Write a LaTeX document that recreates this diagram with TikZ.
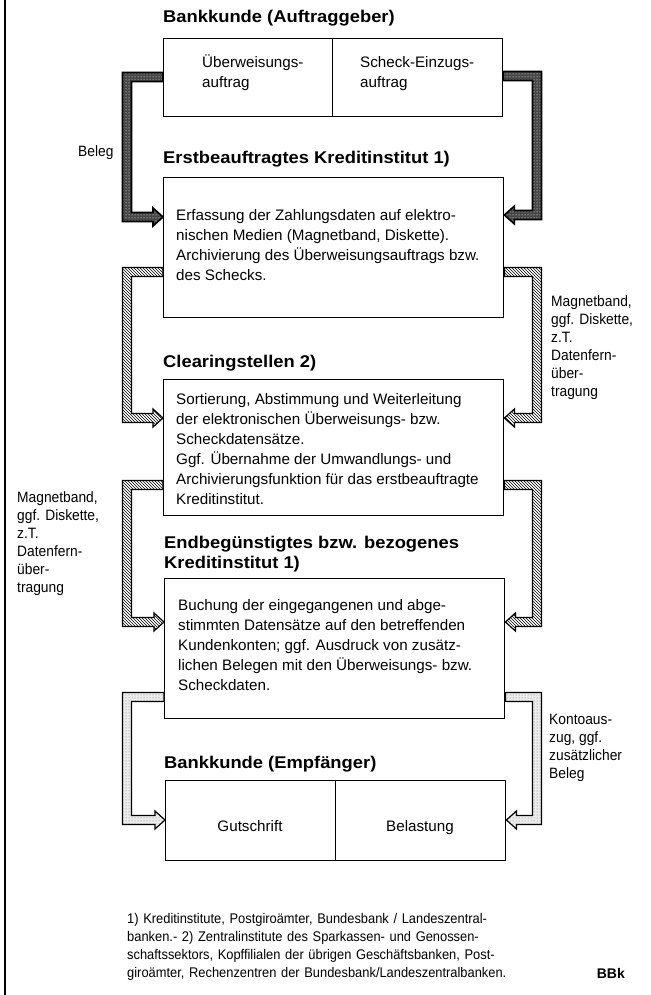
\documentclass[tikz,border=0pt]{standalone}
\usepackage{fontspec}
\setmainfont{Liberation Sans}
\newfontfamily\titlefont[FakeStretch=1.08]{Liberation Sans Bold}
\newfontfamily\narrowfont[FakeStretch=0.92]{Liberation Sans}
\usetikzlibrary{patterns,calc}

\tikzset{
  box/.style={draw, line width=1.4pt, rectangle, inner sep=0pt, anchor=north west},
  title/.style={font=\titlefont\fontsize{17}{20}\selectfont, anchor=base west, inner sep=0pt},
  body/.style={font=\fontsize{15.2}{20}\selectfont, align=left, anchor=north west, inner sep=0pt},
  side/.style={font=\narrowfont\fontsize{15}{18}\selectfont, align=left, anchor=north west, inner sep=0pt},
  foot/.style={font=\narrowfont\fontsize{14}{18}\selectfont, align=left, anchor=north west, inner sep=0pt, text width=395pt},
  darkband/.style={preaction={fill=black!72}, preaction={pattern=dots, pattern color=white}, draw, line width=1.6pt},
  hatchband/.style={preaction={fill=white}, preaction={pattern=north west lines}, draw, line width=1.2pt},
  lightband/.style={preaction={fill=gray!15}, preaction={pattern=dots, pattern color=gray}, draw, line width=1.2pt},
}

% #1 style, #2 from node, #3 to node, #4 anchor, #5 y1, #6 y2, #7 x of vertical leg, #8 side sign
\newcommand\flowband[8]{%
  \path[#1] let \p1=(#2.#4), \p2=(#3.#4) in
    (\x1,{-(#5-4.5)*1pt})
    -- ({(#7+(#8)*4.5)*1pt},{-(#5-4.5)*1pt})
    -- ({(#7+(#8)*4.5)*1pt},{-(#6+4.5)*1pt})
    -- ({\x2+(#8)*10pt},{-(#6+4.5)*1pt})
    -- ({\x2+(#8)*10pt},{-(#6+9)*1pt})
    -- (\x2,{-(#6)*1pt})
    -- ({\x2+(#8)*10pt},{-(#6-9)*1pt})
    -- ({\x2+(#8)*10pt},{-(#6-4.5)*1pt})
    -- ({(#7-(#8)*4.5)*1pt},{-(#6-4.5)*1pt})
    -- ({(#7-(#8)*4.5)*1pt},{-(#5+4.5)*1pt})
    -- (\x1,{-(#5+4.5)*1pt}) -- cycle;}

\begin{document}
\begin{tikzpicture}[x=1pt,y=-1pt]
\useasboundingbox (0,0) rectangle (650,995);

% page border line
\draw[line width=1.2pt] (5,0) -- (5,995);

% boxes
\node[box, minimum width=169pt, minimum height=78pt] (b1l) at (163,38) {};
\node[box, minimum width=170pt, minimum height=78pt] (b1r) at (332,38) {};
\node[box, minimum width=340pt, minimum height=140pt] (b2) at (163,177) {};
\node[box, minimum width=340pt, minimum height=136pt] (b3) at (163,379) {};
\node[box, minimum width=340pt, minimum height=140pt] (b4) at (164,578) {};
\node[box, minimum width=170pt, minimum height=80pt] (b5l) at (165,780) {};
\node[box, minimum width=170pt, minimum height=80pt] (b5r) at (335,780) {};

% flow bands
\flowband{darkband}{b1l}{b2}{west}{77}{217}{127}{-1}
\flowband{darkband}{b1r}{b2}{east}{76}{215}{537}{1}
\flowband{hatchband}{b2}{b3}{west}{272}{418}{127}{-1}
\flowband{hatchband}{b2}{b3}{east}{272}{418}{537}{1}
\flowband{hatchband}{b3}{b4}{west}{485}{622}{127}{-1}
\flowband{hatchband}{b3}{b4}{east}{485}{622}{537}{1}
\flowband{lightband}{b4}{b5l}{west}{697}{820}{127}{-1}
\flowband{lightband}{b4}{b5r}{east}{697}{820}{537}{1}

% titles
\node[title] (t1) at (163,23) {Bankkunde (Auftraggeber)};
\node[title] (t2) at (163,164) {Erstbeauftragtes Kreditinstitut 1)};
\node[title] (t3) at (163,367) {Clearingstellen 2)};
\node[title, align=left, anchor=north west] (t4) at (164,534) {\strut Endbegünstigtes bzw. bezogenes\\Kreditinstitut 1)};
\node[title] (t5) at (164,768) {Bankkunde (Empfänger)};

% box texts
\node[body] (x1a) at (202,53) {\strut Überweisungs-\\auftrag};
\node[body] (x1b) at (360,53) {\strut Scheck-Einzugs-\\auftrag};
\node[body] (x2) at (176,206) {\strut Erfassung der Zahlungsdaten auf elektro-\\nischen Medien (Magnetband, Diskette).\\Archivierung des Überweisungsauftrags bzw.\\des Schecks.};
\node[body] (x3) at (176,390) {\strut Sortierung, Abstimmung und Weiterleitung\\der elektronischen Überweisungs- bzw.\\Scheckdatensätze.\\Ggf. Übernahme der Umwandlungs- und\\Archivierungsfunktion für das erstbeauftragte\\Kreditinstitut.};
\node[body] (x4) at (178,596) {\strut Buchung der eingegangenen und abge-\\stimmten Datensätze auf den betreffenden\\Kundenkonten; ggf. Ausdruck von zusätz-\\lichen Belegen mit den Überweisungs- bzw.\\Scheckdaten.};
\node[font=\fontsize{15.2}{20}\selectfont, anchor=base, inner sep=0pt] (x5a) at (250,831) {Gutschrift};
\node[font=\fontsize{15.2}{20}\selectfont, anchor=base, inner sep=0pt] (x5b) at (420,831) {Belastung};

% side labels
\node[side, anchor=base west] (lb) at (78,157) {Beleg};
\node[side] (lr) at (551,294) {\strut Magnetband,\\ggf. Diskette,\\z.T.\\Datenfern-\\über-\\tragung};
\node[side] (ll) at (17,490) {\strut Magnetband,\\ggf. Diskette,\\z.T.\\Datenfern-\\über-\\tragung};
\node[side] (lk) at (549,712) {\strut Kontoaus-\\zug, ggf.\\zusätzlicher\\Beleg};

% footnote
\node[foot] (fn) at (127,911) {\strut\makebox[395pt][s]{1) Kreditinstitute, Postgiroämter, Bundesbank / Landeszentral-}\\
\makebox[395pt][s]{banken.- 2) Zentralinstitute des Sparkassen- und Genossen-}\\
\makebox[395pt][s]{schaftssektors, Kopffilialen der übrigen Geschäftsbanken, Post-}\\
\makebox[395pt][l]{giroämter, Rechenzentren der Bundesbank/Landeszentralbanken.}};
\node[font=\bfseries\fontsize{14}{16}\selectfont, anchor=base east, inner sep=0pt] (bbk) at (625,978) {BBk};
\end{tikzpicture}
\end{document}
